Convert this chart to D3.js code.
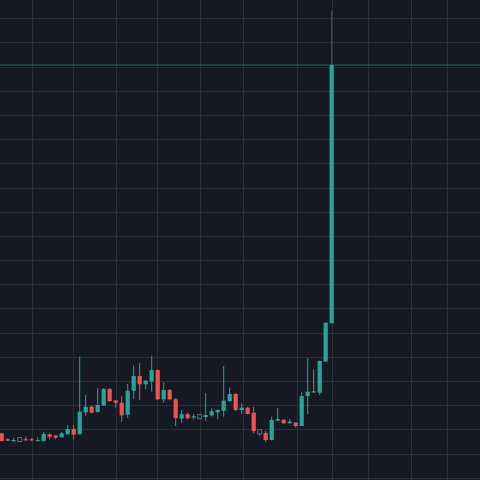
<!DOCTYPE html>
<html><head><meta charset="utf-8">
<script src="https://cdn.jsdelivr.net/npm/d3@7"></script>
<style>html,body{margin:0;padding:0;background:#151924;}svg{display:block;}</style>
</head><body>
<svg id="chart" width="480" height="480"></svg>
<script>
// candle index 0..55
const opens  = [18.4,15.9,15.2,15.8,15.9,15.9,15.2,15.2,17.95,17.45,16.71,17.95,20.14,17.95,27.05,29.36,27.17,29.86,36.68,31.93,
                31.02,26.05,35.98,42.06,38.63,39.79,44.54,32.43,36.27,32.43,24.49,26.26,25.23,25.23,25.1,25.8,27.05,27.71,31.72,34.62,
                28.0,28.95,26.88,18.98,18.49,15.59,23.57,23.99,22.5,22.83,21.38,33.79,35.73,35.16,48.06,63.86];
const highs  = [18.6,16.3,16.4,16.8,16.9,16.5,16.7,19.0,18.28,17.66,18.9,21.79,21.79,50.12,34.2,29.86,37.1,37.1,37.1,32.13,
                33.79,38.75,46.4,47.43,40.28,50.45,44.75,39.38,36.68,32.96,28.0,26.96,26.34,26.14,35.03,28.7,28.2,46.2,37.3,35.03,
                30.77,29.36,29.36,19.93,19.31,25.23,28.83,24.16,24.28,22.91,35.32,49.38,44.83,48.47,64.2,193.4];
const lows   = [15.0,15.2,15.0,15.0,15.4,15.4,15.1,15.0,15.88,15.88,16.63,17.87,15.88,17.87,25.64,26.55,26.96,29.65,31.31,28.99,
                23.16,24.7,32.55,32.13,36.56,35.57,32.13,31.1,31.93,21.38,22.75,24.07,24.16,24.28,23.45,25.3,24.16,25.23,31.31,27.58,
                26.34,26.14,18.36,17.16,14.76,15.38,23.45,22.34,22.42,20.76,21.26,26.34,35.03,34.2,47.85,63.77];
const closes = [15.2,15.3,15.6,15.8,15.5,15.5,15.6,18.07,16.96,16.54,18.36,20.14,17.79,27.29,29.36,26.88,30.07,36.68,31.72,31.02,
                25.8,35.98,42.06,38.63,40.12,44.54,32.43,36.27,32.43,24.7,26.26,24.61,25.39,25.23,25.93,27.46,28.0,31.85,34.62,28.0,
                28.95,26.34,19.31,18.98,15.59,23.86,24.28,22.5,23.24,21.38,33.79,35.57,35.24,48.27,64.11,170.68];
const priceTicks = d3.range(0, 200, 10);
const timeTicks = [5, 11.95, 19, 25.95, 33.05, 40.2, 49.2, 55.1, 61.05, 68.2, 74.2];

const candles = opens.map((o,i)=>({i, o, h:highs[i], l:lows[i], c:closes[i]}));
const W = 480, H = 480;
const svg = d3.select('#chart');
svg.append('rect').attr('width',W).attr('height',H).attr('fill','#151924');

const x = d3.scaleLinear().domain([0, 79]).range([1.7, 1.7 + 6*79]);
const y = d3.scaleLinear().domain([0, 190]).range([477.7, 18.3]);

const grid = svg.append('g').attr('stroke','#2a2f3b').attr('stroke-width',1);
grid.selectAll('line.h').data(priceTicks).join('line').attr('class','h')
  .attr('x1',0).attr('x2',W).attr('y1',d=>Math.round(y(d))+0.5).attr('y2',d=>Math.round(y(d))+0.5);
grid.selectAll('line.v').data(timeTicks).join('line').attr('class','v')
  .attr('y1',0).attr('y2',H).attr('x1',d=>Math.round(x(d))+0.5).attr('x2',d=>Math.round(x(d))+0.5);

const up = '#26a69a', down = '#ef5350', neutral = '#5c6b86';
const col = d => d.c > d.o ? up : (d.c < d.o ? down : neutral);

// last price line
const last = candles[candles.length-1];
svg.append('line').attr('x1',0).attr('x2',W)
  .attr('y1',y(last.c)).attr('y2',y(last.c))
  .attr('stroke',up).attr('stroke-opacity',0.28).attr('stroke-width',2);

const bw = 4.2;
const g = svg.append('g');
g.selectAll('line.wick').data(candles).join('line').attr('class','wick')
  .attr('x1',d=>x(d.i)).attr('x2',d=>x(d.i))
  .attr('y1',d=>y(d.h)).attr('y2',d=>y(d.l))
  .attr('stroke',col).attr('stroke-width',1)
  .attr('stroke-opacity',d=>d.i===candles.length-1?0.6:1);
g.selectAll('rect.body').data(candles.filter(d=>d.o!==d.c)).join('rect').attr('class','body')
  .attr('x',d=>x(d.i)-bw/2).attr('width',bw)
  .attr('y',d=>y(Math.max(d.o,d.c)))
  .attr('height',d=>Math.max(1.2, Math.abs(y(d.o)-y(d.c))))
  .attr('fill',col);
g.selectAll('rect.hollow').data(candles.filter(d=>d.o===d.c)).join('rect').attr('class','hollow')
  .attr('x',d=>x(d.i)-2).attr('width',4)
  .attr('y',d=>y(d.o)-2).attr('height',4)
  .attr('fill','#151924').attr('stroke',neutral).attr('stroke-width',1);
</script>
</body></html>
